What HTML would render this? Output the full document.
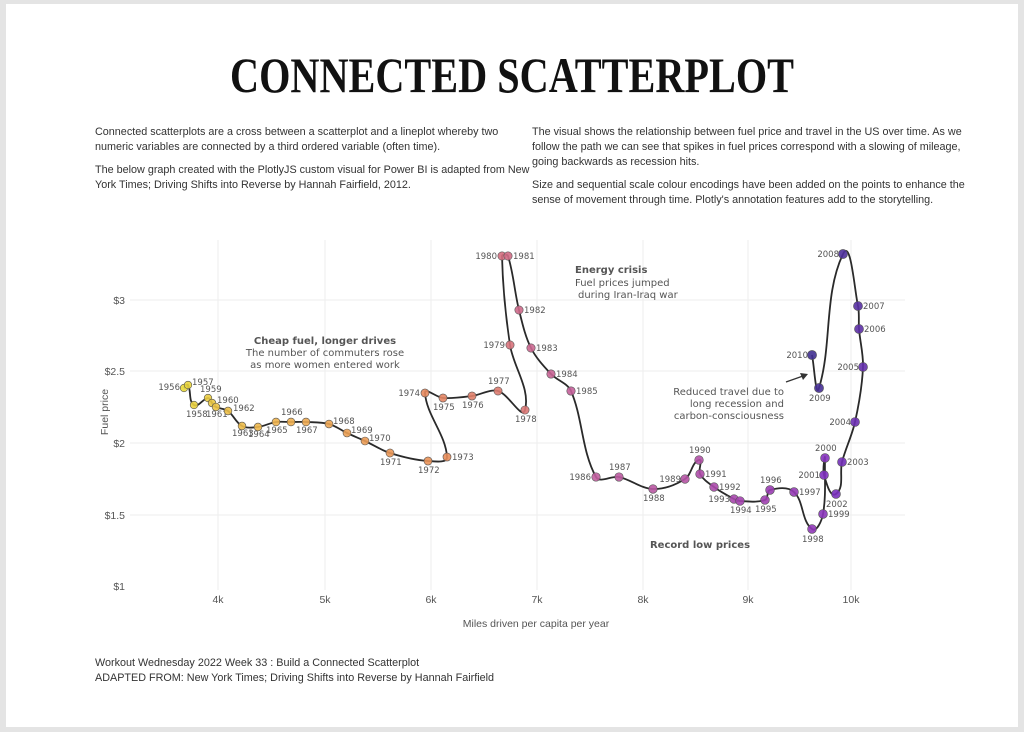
<!DOCTYPE html>
<html><head><meta charset="utf-8"><style>
html,body{margin:0;padding:0;background:#e4e4e4;width:1024px;height:732px;overflow:hidden}
svg{position:absolute;left:0;top:0}
.b{font-family:"Liberation Sans",sans-serif;font-size:10.8px;fill:#333}
.l{font-family:"DejaVu Sans",sans-serif;font-size:8.5px;fill:#555}
.a{font-family:"DejaVu Sans",sans-serif;font-size:10px;fill:#555}
.t{font-size:10.5px;fill:#555;font-family:"Liberation Sans",sans-serif}
</style></head><body>
<svg width="1024" height="732" id="s">
<rect x="6" y="4" width="1012" height="723" fill="#fff"/>
<text x="512" y="92" text-anchor="middle" style="font-family:'Liberation Serif',serif;font-weight:bold;font-size:50px" textLength="564" lengthAdjust="spacingAndGlyphs" fill="#111">CONNECTED SCATTERPLOT</text>
<text class="b" x="95" y="135">Connected scatterplots are a cross between a scatterplot and a lineplot whereby two</text>
<text class="b" x="95" y="150">numeric variables are connected by a third ordered variable (often time).</text>
<text class="b" x="95" y="173">The below graph created with the PlotlyJS custom visual for Power BI is adapted from New</text>
<text class="b" x="95" y="188">York Times; Driving Shifts into Reverse by Hannah Fairfield, 2012.</text>
<text class="b" x="532" y="135">The visual shows the relationship between fuel price and travel in the US over time. As we</text>
<text class="b" x="532" y="150">follow the path we can see that spikes in fuel prices correspond with a slowing of mileage,</text>
<text class="b" x="532" y="165">going backwards as recession hits.</text>
<text class="b" x="532" y="188">Size and sequential scale colour encodings have been added on the points to enhance the</text>
<text class="b" x="532" y="203">sense of movement through time. Plotly's annotation features add to the storytelling.</text>
<text class="b" x="95" y="666">Workout Wednesday 2022 Week 33 :  Build a Connected Scatterplot</text>
<text class="b" x="95" y="681">ADAPTED FROM: New York Times; Driving Shifts into Reverse by Hannah Fairfield</text>
<g id="grid" stroke="#eee" stroke-width="1"></g>
<g id="ax"></g>
<text class="t" x="125" y="590" text-anchor="end">$1</text>
<text class="t" x="108" y="412" text-anchor="middle" transform="rotate(-90 108 412)">Fuel price</text>
<text class="t" x="536" y="627" text-anchor="middle">Miles driven per capita per year</text>
<path id="ln" fill="none" stroke="#2a2a2a" stroke-width="1.8"/>
<g id="pts"></g>
<text class="a" x="325" y="344" text-anchor="middle" font-weight="bold" fill="#444">Cheap fuel, longer drives</text>
<text class="a" x="325" y="356" text-anchor="middle">The number of commuters rose</text>
<text class="a" x="325" y="368" text-anchor="middle">as more women entered work</text>
<text class="a" x="575" y="273" font-weight="bold" fill="#444">Energy crisis</text>
<text class="a" x="575" y="286">Fuel prices jumped</text>
<text class="a" x="578" y="298">during Iran-Iraq war</text>
<text class="a" x="700" y="548" text-anchor="middle" font-weight="bold" fill="#444">Record low prices</text>
<text class="a" x="784" y="395" text-anchor="end">Reduced travel due to</text>
<text class="a" x="784" y="407" text-anchor="end">long recession and</text>
<text class="a" x="784" y="419" text-anchor="end">carbon-consciousness</text>
<line x1="786" y1="382" x2="803" y2="376" stroke="#333" stroke-width="1.3"/>
<path d="M808,374 L800,373 L803,380 Z" fill="#333"/>
</svg>
<script>
var NS="http://www.w3.org/2000/svg";
function el(p,t,a,txt){var e=document.createElementNS(NS,t);for(var k in a)e.setAttribute(k,a[k]);if(txt)e.textContent=txt;document.getElementById(p).appendChild(e);return e;}
var xs=[[218,'4k'],[325,'5k'],[431,'6k'],[537,'7k'],[643,'8k'],[748,'9k'],[851,'10k']];
var ys=[[300,'$3'],[371,'$2.5'],[443,'$2'],[515,'$1.5']];
xs.forEach(function(x){el('grid','line',{x1:x[0],x2:x[0],y1:240,y2:590});el('ax','text',{x:x[0],y:603,'text-anchor':'middle','class':'t'},x[1]);});
ys.forEach(function(y){el('grid','line',{x1:130,x2:905,y1:y[0],y2:y[0]});el('ax','text',{x:125,y:y[0]+4,'text-anchor':'end','class':'t'},y[1]);});
var P=[
[1956,184,388,-4,2,'end'],[1957,188,385,4,0,'start'],[1958,194,405,-8,12,'start'],[1959,208,398,-8,-6,'start'],
[1960,212,403,5,0,'start'],[1961,216,407,-10,10,'start'],[1962,228,411,5,0,'start'],[1963,242,426,-10,10,'start'],
[1964,258,427,-10,10,'start'],[1965,276,422,-10,11,'start'],[1966,291,422,-10,-7,'start'],[1967,306,422,-10,11,'start'],
[1968,329,424,4,0,'start'],[1969,347,433,4,0,'start'],[1970,365,441,4,0,'start'],[1971,390,453,-10,12,'start'],
[1972,428,461,-10,12,'start'],[1973,447,457,5,3,'start'],[1974,425,393,-5,3,'end'],[1975,443,398,-10,12,'start'],
[1976,472,396,-10,12,'start'],[1977,498,391,-10,-7,'start'],[1978,525,410,-10,12,'start'],[1979,510,345,-5,3,'end'],
[1980,502,256,-5,3,'end'],[1981,508,256,5,3,'start'],[1982,519,310,5,3,'start'],[1983,531,348,5,3,'start'],
[1984,551,374,5,3,'start'],[1985,571,391,5,3,'start'],[1986,596,477,-5,3,'end'],[1987,619,477,-10,-7,'start'],
[1988,653,489,-10,12,'start'],[1989,685,479,-4,3,'end'],[1990,699,460,-10,-7,'start'],[1991,700,474,5,3,'start'],
[1992,714,487,5,3,'start'],[1993,734,499,-4,3,'end'],[1994,740,501,-10,12,'start'],[1995,765,500,-10,12,'start'],
[1996,770,490,-10,-7,'start'],[1997,794,492,5,3,'start'],[1998,812,529,-10,13,'start'],[1999,823,514,5,3,'start'],
[2000,825,458,-10,-7,'start'],[2001,824,475,-4,3,'end'],[2002,836,494,-10,13,'start'],[2003,842,462,5,3,'start'],
[2004,855,422,-4,3,'end'],[2005,863,367,-4,3,'end'],[2006,859,329,5,3,'start'],[2007,858,306,5,3,'start'],
[2008,843,254,-4,3,'end'],[2009,819,388,-10,13,'start'],[2010,812,355,-4,3,'end']];
var C=[[0,[232,216,58]],[0.18,[238,176,80]],[0.32,[232,140,90]],[0.44,[214,112,128]],[0.56,[192,94,160]],[0.72,[160,64,176]],[0.84,[126,48,192]],[1,[64,48,144]]];
function col(t){for(var i=0;i<C.length-1;i++)if(t<=C[i+1][0]){var f=(t-C[i][0])/(C[i+1][0]-C[i][0]);var a=C[i][1],b=C[i+1][1];return 'rgb('+a.map(function(v,k){return Math.round(v+(b[k]-v)*f)}).join(',')+')';}return 'rgb(64,48,144)';}
function tan(i){var a=P[Math.max(i-1,0)],b=P[Math.min(i+1,P.length-1)];var dx=b[1]-a[1],dy=b[2]-a[2],L=Math.sqrt(dx*dx+dy*dy)||1;return [dx/L,dy/L];}
var d='M'+P[0][1]+','+P[0][2];
for(var i=0;i<P.length-1;i++){var p1=P[i],p2=P[i+1];var dx=p2[1]-p1[1],dy=p2[2]-p1[2],L=Math.sqrt(dx*dx+dy*dy)*0.33;var t1=tan(i),t2=tan(i+1);
d+=' C'+(p1[1]+t1[0]*L).toFixed(1)+','+(p1[2]+t1[1]*L).toFixed(1)+' '+(p2[1]-t2[0]*L).toFixed(1)+','+(p2[2]-t2[1]*L).toFixed(1)+' '+p2[1]+','+p2[2];}
document.getElementById('ln').setAttribute('d',d);
P.forEach(function(p,i){var t=i/(P.length-1);el('pts','circle',{cx:p[1],cy:p[2],r:3.8+t*0.8,fill:col(t),stroke:'#555','stroke-width':0.6,'fill-opacity':0.9});
el('pts','text',{x:p[1]+p[3],y:p[2]+p[4],'text-anchor':p[5],'class':'l'},String(p[0]));});
</script>
</body></html>
